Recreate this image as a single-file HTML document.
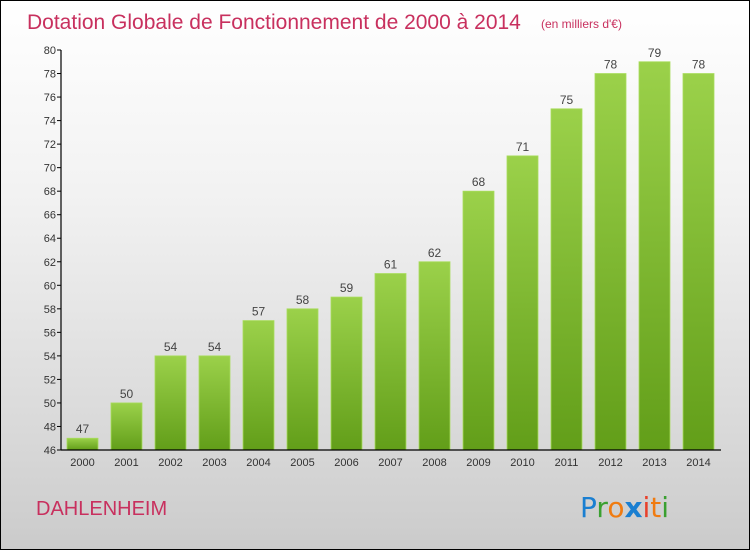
<!DOCTYPE html>
<html><head><meta charset="utf-8"><style>
html,body{margin:0;padding:0;width:750px;height:550px;overflow:hidden;font-family:"Liberation Sans",sans-serif;}
#frame{position:absolute;left:0;top:0;width:748px;height:548px;border:1px solid #000;background:linear-gradient(#ffffff 0%,#f2f2f2 35%,#d8d8d8 80%,#cbcbcb 100%);}
</style></head><body>
<div id="frame">
<svg id="chart" width="750" height="550" style="position:absolute;left:-1px;top:-1px">
<defs>
<linearGradient id="barg" x1="0" y1="0" x2="0" y2="1"><stop offset="0" stop-color="#9bd14a"/><stop offset="1" stop-color="#629e19"/></linearGradient>
</defs>
<text x="27" y="29" font-size="21" fill="#c8305e">Dotation Globale de Fonctionnement de 2000 à 2014</text>
<text x="541" y="28" font-size="12" fill="#c8305e">(en milliers d'€)</text>
<text x="36" y="515" font-size="20" fill="#c8305e">DAHLENHEIM</text>
<g font-size="28" font-family="'DejaVu Sans',sans-serif">
<text x="580" y="517"><tspan fill="#1a7fd1">P</tspan><tspan fill="#3aa030">r</tspan><tspan fill="#f07b10">o</tspan><tspan fill="#1a7fd1" font-weight="bold">x</tspan><tspan fill="#e8402a">i</tspan><tspan fill="#f07b10">t</tspan><tspan fill="#3aa030">i</tspan></text>
</g>
<g id="plot"></g>
</svg>
</div>
<script>
const categories=["2000","2001","2002","2003","2004","2005","2006","2007","2008","2009","2010","2011","2012","2013","2014"];
const values=[47,50,54,54,57,58,59,61,62,68,71,75,78,79,78];
const yTicks=[46,48,50,52,54,56,58,60,62,64,66,68,70,72,74,76,78,80];
const NS="http://www.w3.org/2000/svg";
const yMin=46,yMax=80,yTop=50,yBottom=450;
function y(v){return yBottom-(v-yMin)/(yMax-yMin)*(yBottom-yTop);}
function xc(i){return 82.5+i*44;}
const g=document.getElementById('plot');
function mk(t,a,txt){const e=document.createElementNS(NS,t);for(const k in a)e.setAttribute(k,a[k]);if(txt!==undefined)e.textContent=txt;g.appendChild(e);return e;}
categories.forEach((c,i)=>{
 const b=mk('rect',{x:xc(i)-15.5,y:y(values[i]),width:31,height:yBottom-y(values[i]),fill:'url(#barg)',stroke:'#a8dc5c','stroke-width':0.8});
 
 
 const l=mk('text',{x:xc(i),y:y(values[i])-5,'text-anchor':'middle','font-size':12,fill:'#444'},values[i]);
 
 
 const t=mk('text',{x:xc(i),y:466,'text-anchor':'middle','font-size':11,fill:'#333'},c);
 
 
});
yTicks.forEach(v=>{
 const tk=mk('line',{x1:57,x2:61,y1:y(v),y2:y(v),stroke:'#000'});
 
 
 const t=mk('text',{x:56,y:y(v)+4,'text-anchor':'end','font-size':11,fill:'#333'},v);
 
 
});
const ya=mk('line',{x1:61,x2:61,y1:yTop,y2:yBottom,stroke:'#000','stroke-width':1.2});


const xa=mk('line',{x1:61,x2:721,y1:yBottom,y2:yBottom,stroke:'#000','stroke-width':1.2});


</script>
</body></html>
